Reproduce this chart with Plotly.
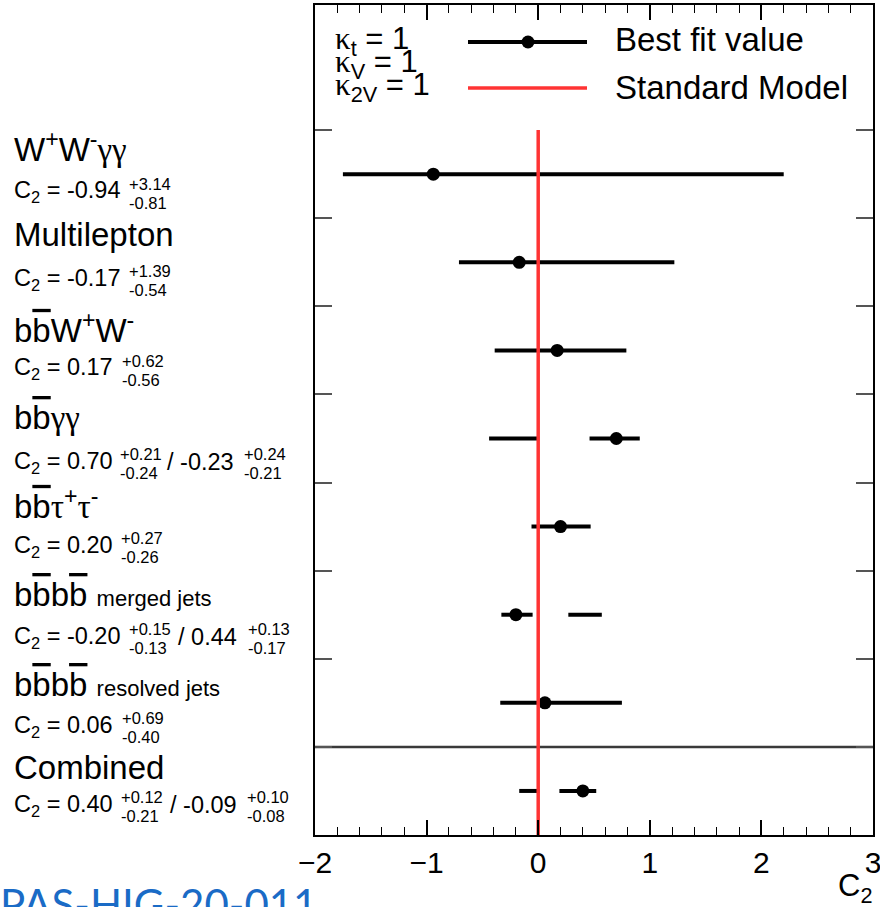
import plotly.graph_objects as go

# ---------------- data ----------------
channels = ["W<sup>+</sup>W<sup>-</sup>γγ", "Multilepton", "bb̄W<sup>+</sup>W<sup>-</sup>",
            "bb̄γγ", "bb̄τ<sup>+</sup>τ<sup>-</sup>", "bb̄bb̄", "bb̄bb̄", "Combined"]
channel_notes = ["", "", "", "", "", "merged jets", "resolved jets", ""]
best = [-0.94, -0.17, 0.17, 0.70, 0.20, -0.20, 0.06, 0.40]
err_up = [3.14, 1.39, 0.62, 0.21, 0.27, 0.15, 0.69, 0.12]
err_dn = [0.81, 0.54, 0.56, 0.24, 0.26, 0.13, 0.40, 0.21]
second = [None, None, None, -0.23, None, 0.44, None, -0.09]
second_up = [None, None, None, 0.24, None, 0.13, None, 0.10]
second_dn = [None, None, None, 0.21, None, 0.17, None, 0.08]
sm_value = 0.0
x_ticks = [-2, -1, 0, 1, 2, 3]

FONT = "Liberation Sans, Arial, sans-serif"
GREEK = "Liberation Serif, Times New Roman, serif"
W, H = 880, 907
n = len(channels)
rows = [n - i - 0.5 for i in range(n)]

fig = go.Figure()

# interval segments
seg_x, seg_y = [], []
for i in range(n):
    seg_x += [best[i] - err_dn[i], best[i] + err_up[i], None]
    seg_y += [rows[i], rows[i], None]
    if second[i] is not None:
        seg_x += [second[i] - second_dn[i], second[i] + second_up[i], None]
        seg_y += [rows[i], rows[i], None]
fig.add_trace(go.Scatter(x=seg_x, y=seg_y, mode="lines",
                         line=dict(color="black", width=4), showlegend=False,
                         hoverinfo="skip"))
fig.add_trace(go.Scatter(x=best, y=rows, mode="markers",
                         marker=dict(color="black", size=13), showlegend=False))
# separator between channels and combined
fig.add_trace(go.Scatter(x=[x_ticks[0], x_ticks[-1]], y=[1, 1], mode="lines",
                         line=dict(color="#3a3a3a", width=2.5), showlegend=False,
                         hoverinfo="skip"))
# SM line
fig.add_trace(go.Scatter(x=[sm_value, sm_value], y=[0, n], mode="lines",
                         line=dict(color="#ff3333", width=3.5), showlegend=False,
                         hoverinfo="skip"))

def py(p):
    return 1 - p / H

def px(p):
    return p / W

ann = []
def text(x, y, s, size, xanchor="left", yanchor="middle", color="black", family=FONT):
    ann.append(dict(x=px(x), y=py(y), xref="paper", yref="paper", text=s,
                    showarrow=False, xanchor=xanchor, yanchor=yanchor,
                    font=dict(size=size, color=color, family=family)))

def fancy(s):
    s = s.replace("bb̄", 'b<span style="text-decoration:overline">b</span>')
    for g in "γτκ":
        s = s.replace(g, f'<span style="font-family:{GREEK}">{g}</span>')
    return s

title_y = [147, 234, 328, 417, 504, 594, 684, 767]
sup_y = [184, 271, 361, 454, 538, 629, 718, 797]
err_x = [127, 127, 120, 118, 119, 127, 120, 119]
slash_x = [None, None, None, 165, None, 176, None, 168]
sec_err_x = [None, None, None, 242, None, 246, None, 245]

def fmt(v):
    return f"{v:.2f}"

for i in range(n):
    t = fancy(channels[i])
    if channel_notes[i]:
        t += f' <span style="font-size:22px">{channel_notes[i]}</span>'
    text(12, title_y[i], t, 33)
    text(12, sup_y[i] + 8, f"C<sub>2</sub> = {fmt(best[i])}", 23.5)
    text(err_x[i], sup_y[i], f"+{fmt(err_up[i])}", 16.5)
    text(err_x[i], sup_y[i] + 19, f"-{fmt(err_dn[i])}", 16.5)
    if second[i] is not None:
        text(slash_x[i], sup_y[i] + 8, f"/ {fmt(second[i])}", 23.5)
        text(sec_err_x[i], sup_y[i], f"+{fmt(second_up[i])}", 16.5)
        text(sec_err_x[i], sup_y[i] + 19, f"-{fmt(second_dn[i])}", 16.5)

# legend block
text(333, 41, fancy("κ<sub>t</sub> = 1"), 31)
text(333, 64, fancy("κ<sub>V</sub> = 1"), 31)
text(333, 87, fancy("κ<sub>2V</sub> = 1"), 31)
text(613, 40, "Best fit value", 33)
text(613, 87, "Standard Model", 33)

# axis title + reference tag
text(874, 888, "C<sub>2</sub>", 31, xanchor="right")
text(-2, 877, "PAS-HIG-20-011", 42, yanchor="top", color="#1a6bc6",
     family="Lato, Inter, sans-serif")

shapes = [
    dict(type="line", xref="paper", yref="paper", x0=px(468), x1=px(587),
         y0=py(42), y1=py(42), line=dict(color="black", width=4)),
    dict(type="line", xref="paper", yref="paper", x0=px(468), x1=px(587),
         y0=py(88), y1=py(88), line=dict(color="#ff3333", width=3.5)),
    dict(type="circle", xref="paper", yref="paper", x0=px(521.5), x1=px(534.5),
         y0=py(48.5), y1=py(35.5), fillcolor="black", line=dict(color="black", width=0)),
]

fig.update_layout(
    width=W, height=H, margin=dict(l=0, r=0, t=0, b=0, autoexpand=False),
    paper_bgcolor="white", plot_bgcolor="white",
    annotations=ann, shapes=shapes, showlegend=False,
    xaxis=dict(domain=[315 / W, 873 / W], range=[x_ticks[0], x_ticks[-1]],
               tickvals=x_ticks, ticks="inside", ticklen=15, tickwidth=1.5,
               tickcolor="black", mirror="allticks", showline=True,
               linecolor="black", linewidth=1.5, showgrid=False, zeroline=False,
               automargin=False, ticklabeloverflow="allow",
               tickfont=dict(size=30, family=FONT, color="black"),
               minor=dict(dtick=0.2, ticks="inside", ticklen=8, tickwidth=1.2,
                          tickcolor="black", showgrid=False)),
    yaxis=dict(domain=[1 - 835 / H, 1 - 5 / H], range=[0, 9.42],
               tickvals=list(range(1, n + 1)), ticks="inside", ticklen=17,
               tickwidth=2, tickcolor="#555555", mirror="allticks",
               showline=True, linecolor="black", linewidth=1.5, automargin=False,
               showticklabels=False, showgrid=False, zeroline=False),
)

fig.write_html("out.html")
